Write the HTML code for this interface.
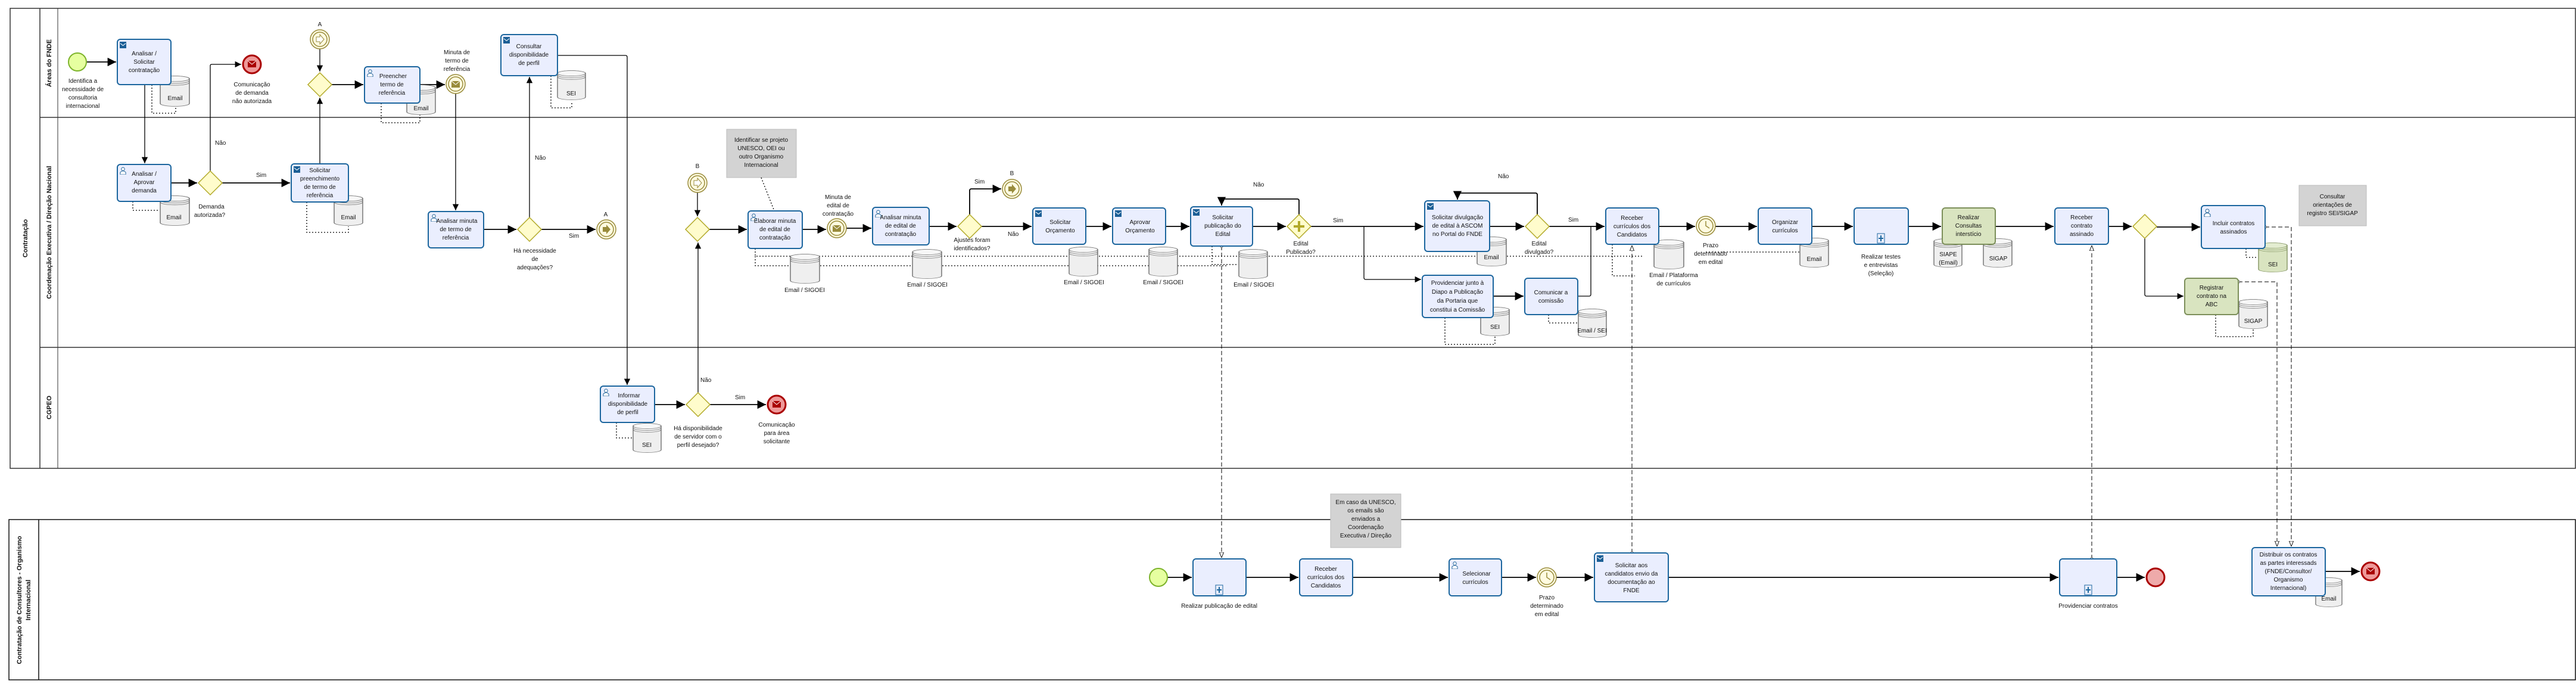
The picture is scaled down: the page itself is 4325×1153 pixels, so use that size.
<!DOCTYPE html>
<html><head><meta charset="utf-8"><style>
html,body{margin:0;padding:0;background:#fff;}
svg{display:block;}
text{font-family:"Liberation Sans Narrow","Liberation Sans",sans-serif;font-size:10px;fill:#111;}
.t{text-anchor:middle;}
.lb{font-family:"Liberation Sans",sans-serif;font-weight:bold;font-size:11px;text-anchor:middle;}
.task{fill:#eaeefe;stroke:#1c669e;stroke-width:2;}
.green{fill:#d9e4c0;stroke:#7c8f5a;stroke-width:2;}
.f{fill:none;stroke:#000;stroke-width:1.3;}
.fb{fill:none;stroke:#000;stroke-width:1.8;}
.msg{fill:none;stroke:#000;stroke-width:1;stroke-dasharray:7,4;}
.dot{fill:none;stroke:#000;stroke-width:1.3;stroke-dasharray:2,3;}
.gw{fill:#fffccc;stroke:#b3aa2a;stroke-width:1.5;}
.ann{fill:#d3d3d3;stroke:#bbb;}
</style></head><body>
<svg width="4325" height="1153" viewBox="0 0 4325 1153" xmlns="http://www.w3.org/2000/svg">
<defs>
<marker id="a" viewBox="0 0 10 10" refX="10" refY="5" markerWidth="8" markerHeight="8" orient="auto-start-reverse"><path d="M0,0L10,5L0,10z" fill="#000"/></marker>
<marker id="o" viewBox="0 0 10 10" refX="10" refY="5" markerWidth="9" markerHeight="9" orient="auto"><path d="M0,1L10,5L0,9z" fill="#fff" stroke="#000"/></marker>
<marker id="c" viewBox="0 0 10 10" refX="5" refY="5" markerWidth="6" markerHeight="6"><circle cx="5" cy="5" r="4" fill="#fff" stroke="#000"/></marker>
<symbol id="db" viewBox="0 0 50 100" preserveAspectRatio="none">
<path d="M1,10 A24,9 0 0 1 49,10 V90 A24,9 0 0 1 1,90 Z" fill="#efefef" stroke="#777" stroke-width="1.5"/>
<ellipse cx="25" cy="10" rx="24" ry="9" fill="#f7f7f7" stroke="#777" stroke-width="1.5"/>
<path d="M1,16 A24,9 0 0 0 49,16 M1,22 A24,9 0 0 0 49,22" fill="none" stroke="#777" stroke-width="1.5"/>
</symbol>
<symbol id="dbg" viewBox="0 0 50 100" preserveAspectRatio="none">
<path d="M1,10 A24,9 0 0 1 49,10 V90 A24,9 0 0 1 1,90 Z" fill="#d9e4c0" stroke="#8a9a6a" stroke-width="1.5"/>
<ellipse cx="25" cy="10" rx="24" ry="9" fill="#e3ecd0" stroke="#8a9a6a" stroke-width="1.5"/>
<path d="M1,16 A24,9 0 0 0 49,16 M1,22 A24,9 0 0 0 49,22" fill="none" stroke="#8a9a6a" stroke-width="1.5"/>
</symbol>
<symbol id="mail" viewBox="0 0 12 12"><rect width="12" height="12" fill="#1c5f96"/><path d="M1,3L6,7L11,3" fill="none" stroke="#fff" stroke-width="1.2"/></symbol>
<symbol id="user" viewBox="0 0 12 14"><circle cx="6" cy="4" r="3" fill="#fff" stroke="#1c5f96"/><path d="M1,14V10Q6,5 11,10V14Z" fill="#fff" stroke="#1c5f96"/></symbol>
</defs>

<!-- Pool 1 -->
<rect x="17" y="14" width="4307" height="772" fill="none" stroke="#333" stroke-width="1.5"/>
<line x1="67" y1="14" x2="67" y2="786" stroke="#333" stroke-width="1.5"/>
<line x1="97" y1="14" x2="97" y2="786" stroke="#333" stroke-width="1"/>
<line x1="67" y1="197" x2="4324" y2="197" stroke="#333" stroke-width="1.5"/>
<line x1="67" y1="583" x2="4324" y2="583" stroke="#333" stroke-width="1.5"/>
<text class="lb" transform="translate(46,400) rotate(-90)">Contratação</text>
<text class="lb" transform="translate(86,106) rotate(-90)">Áreas do FNDE</text>
<text class="lb" transform="translate(86,390) rotate(-90)">Coordenação Executiva / Direção Nacional</text>
<text class="lb" transform="translate(86,684) rotate(-90)">CGPEO</text>

<!-- Pool 2 -->
<rect x="15" y="872" width="4309" height="269" fill="none" stroke="#111" stroke-width="1.5"/>
<line x1="65" y1="872" x2="65" y2="1141" stroke="#111" stroke-width="1.5"/>
<text class="lb" transform="translate(36,1007) rotate(-90)">Contratação de Consultores - Organismo</text>
<text class="lb" transform="translate(51,1007) rotate(-90)">Internacional</text>

<!-- annotations -->
<rect class="ann" x="1220" y="217" width="117" height="81"/>
<text class="t" x="1278" y="238"><tspan x="1278">Identificar se projeto</tspan><tspan x="1278" dy="14">UNESCO, OEI ou</tspan><tspan x="1278" dy="14">outro Organismo</tspan><tspan x="1278" dy="14">Internacional</tspan></text>
<line class="dot" x1="1278" y1="298" x2="1300" y2="354"/>
<rect class="ann" x="3860" y="311" width="113" height="68"/>
<text class="t" x="3916" y="333"><tspan x="3916">Consultar</tspan><tspan x="3916" dy="14">orientações de</tspan><tspan x="3916" dy="14">registro SEI/SIGAP</tspan></text>
<rect class="ann" x="2234" y="829" width="118" height="90"/>
<text class="t" x="2293" y="846"><tspan x="2293">Em caso da UNESCO,</tspan><tspan x="2293" dy="14">os emails são</tspan><tspan x="2293" dy="14">enviados a</tspan><tspan x="2293" dy="14">Coordenação</tspan><tspan x="2293" dy="14">Executiva / Direção</tspan></text>

<!-- dotted data associations -->
<path class="dot" d="M1268,417 V430 H2760"/>
<path class="dot" d="M1268,430 V446 H2060"/>
<path class="dot" d="M255,142 V190 H295 V180"/>
<path class="dot" d="M640,173 V206 H705 V193"/>
<path class="dot" d="M925,127 V181 H960 V170"/>
<path class="dot" d="M223,338 V353 H268"/>
<path class="dot" d="M515,339 V390 H585 V380"/>
<path class="dot" d="M1035,709 V735 H1062"/>
<path class="dot" d="M2426,533 V578 H2510 V565"/>
<path class="dot" d="M2600,528 V542 H2649"/>
<path class="dot" d="M2707,410 V463 H2745"/>
<path class="dot" d="M2864,423 H3021"/>
<path class="dot" d="M3771,417 V432 H3791"/>
<path class="dot" d="M3720,528 V565 H3783 V553"/>
<path class="dot" d="M2035,413 V444 H2079"/>

<!-- message flows -->
<path class="msg" d="M2051,413 V936" marker-start="url(#c)" marker-end="url(#o)"/>
<path class="msg" d="M2740,928 V412" marker-start="url(#c)" marker-end="url(#o)"/>
<path class="msg" d="M3512,938 V412" marker-start="url(#c)" marker-end="url(#o)"/>
<path class="msg" d="M3803,381 H3847 V917" marker-start="url(#c)" marker-end="url(#o)"/>
<path class="msg" d="M3758,473 H3823 V917" marker-start="url(#c)" marker-end="url(#o)"/>

<!-- sequence flows lane 1 & 2 -->
<path class="fb" d="M146,104 H195" marker-end="url(#a)"/>
<path class="f" d="M243,142 V274" marker-end="url(#a)"/>
<path class="fb" d="M287,307 H331" marker-end="url(#a)"/>
<path class="f" d="M353,287 V110 Q353,108 356,108 H405" marker-end="url(#a)"/>
<text x="361" y="243">Não</text>
<path class="fb" d="M373,307 H487" marker-end="url(#a)"/>
<text x="430" y="297">Sim</text>
<path class="f" d="M537,275 V164" marker-end="url(#a)"/>
<path class="f" d="M537,82 V120" marker-end="url(#a)"/>
<path class="fb" d="M557,142 H610" marker-end="url(#a)"/>
<path class="fb" d="M705,142 H747" marker-end="url(#a)"/>
<path class="f" d="M765,157 V353" marker-end="url(#a)"/>
<path class="fb" d="M812,385 H867" marker-end="url(#a)"/>
<path class="f" d="M889,365 V129" marker-end="url(#a)"/>
<text x="898" y="268">Não</text>
<path class="fb" d="M909,385 H1000" marker-end="url(#a)"/>
<text x="955" y="399">Sim</text>
<path class="f" d="M936,93 H1050 Q1053,93 1053,96 V646" marker-end="url(#a)"/>
<path class="fb" d="M1099,679 H1150" marker-end="url(#a)"/>
<path class="fb" d="M1192,679 H1286" marker-end="url(#a)"/>
<text x="1234" y="670">Sim</text>
<path class="f" d="M1172,659 V407" marker-end="url(#a)"/>
<text x="1176" y="641">Não</text>
<path class="f" d="M1171,323 V363" marker-end="url(#a)"/>
<path class="fb" d="M1191,385 H1254" marker-end="url(#a)"/>
<path class="fb" d="M1347,385 H1387" marker-end="url(#a)"/>
<path class="fb" d="M1421,383 H1463" marker-end="url(#a)"/>
<path class="fb" d="M1560,380 H1606" marker-end="url(#a)"/>
<path class="fb" d="M1628,360 V320 Q1628,317 1631,317 H1681" marker-end="url(#a)"/>
<text x="1636" y="308">Sim</text>
<path class="fb" d="M1648,380 H1732" marker-end="url(#a)"/>
<text x="1692" y="396">Não</text>
<path class="fb" d="M1823,380 H1866" marker-end="url(#a)"/>
<path class="fb" d="M1957,380 H1997" marker-end="url(#a)"/>
<path class="fb" d="M2103,380 H2159" marker-end="url(#a)"/>
<path class="fb" d="M2181,360 V337 Q2181,334 2178,334 H2054 Q2051,334 2051,337 V345" marker-end="url(#a)"/>
<text x="2104" y="313">Não</text>
<path class="fb" d="M2201,380 H2390" marker-end="url(#a)"/>
<text x="2238" y="373">Sim</text>
<path class="f" d="M2290,380 V466 Q2290,469 2293,469 H2386" marker-end="url(#a)"/>
<path class="fb" d="M2501,380 H2559" marker-end="url(#a)"/>
<path class="fb" d="M2581,360 V327 Q2581,324 2578,324 H2450 Q2447,324 2447,327 V335" marker-end="url(#a)"/>
<text x="2515" y="299">Não</text>
<path class="fb" d="M2601,380 H2694" marker-end="url(#a)"/>
<text x="2633" y="372">Sim</text>
<path class="fb" d="M2507,497 H2558" marker-end="url(#a)"/>
<path class="f" d="M2649,497 H2668 Q2671,497 2671,494 V380"/>
<path class="fb" d="M2785,380 H2846" marker-end="url(#a)"/>
<path class="fb" d="M2880,380 H2950" marker-end="url(#a)"/>
<path class="fb" d="M3042,380 H3111" marker-end="url(#a)"/>
<path class="fb" d="M3204,380 H3259" marker-end="url(#a)"/>
<path class="fb" d="M3350,380 H3448" marker-end="url(#a)"/>
<path class="fb" d="M3540,380 H3579" marker-end="url(#a)"/>
<path class="fb" d="M3621,381 H3694" marker-end="url(#a)"/>
<path class="f" d="M3601,400 V494 Q3601,497 3604,497 H3666" marker-end="url(#a)"/>

<!-- pool 2 flows -->
<path class="fb" d="M1960,969 H2001" marker-end="url(#a)"/>
<path class="fb" d="M2092,969 H2180" marker-end="url(#a)"/>
<path class="fb" d="M2271,969 H2431" marker-end="url(#a)"/>
<path class="fb" d="M2521,969 H2579" marker-end="url(#a)"/>
<path class="fb" d="M2613,969 H2675" marker-end="url(#a)"/>
<path class="fb" d="M2801,969 H3456" marker-end="url(#a)"/>
<path class="fb" d="M3554,969 H3601" marker-end="url(#a)"/>
<path class="fb" d="M3904,959 H3962" marker-end="url(#a)"/>

<!-- data stores -->
<use href="#db" x="268" y="127" width="51" height="52"/><text class="t" x="294" y="168">Email</text>
<use href="#db" x="682" y="142" width="50" height="51"/><text class="t" x="707" y="185">Email</text>
<use href="#db" x="935" y="118" width="49" height="50"/><text class="t" x="959" y="160">SEI</text>
<use href="#db" x="268" y="328" width="51" height="51"/><text class="t" x="292" y="368">Email</text>
<use href="#db" x="560" y="328" width="50" height="51"/><text class="t" x="585" y="368">Email</text>
<use href="#db" x="1062" y="710" width="49" height="50"/><text class="t" x="1086" y="750">SEI</text>
<use href="#db" x="1326" y="426" width="51" height="50"/><text class="t" x="1351" y="490">Email / SIGOEI</text>
<use href="#db" x="1531" y="418" width="51" height="50"/><text class="t" x="1557" y="481">Email / SIGOEI</text>
<use href="#db" x="1794" y="414" width="50" height="50"/><text class="t" x="1820" y="477">Email / SIGOEI</text>
<use href="#db" x="1928" y="414" width="50" height="50"/><text class="t" x="1953" y="477">Email / SIGOEI</text>
<use href="#db" x="2079" y="418" width="50" height="50"/><text class="t" x="2105" y="481">Email / SIGOEI</text>
<use href="#db" x="2479" y="397" width="51" height="50"/><text class="t" x="2504" y="435">Email</text>
<use href="#db" x="2485" y="515" width="50" height="49"/><text class="t" x="2510" y="552">SEI</text>
<use href="#db" x="2649" y="518" width="49" height="49"/><text class="t" x="2673" y="558">Email / SEI</text>
<use href="#db" x="2776" y="402" width="52" height="50"/><text class="t" x="2800" y="465"><tspan x="2810">Email / Plataforma</tspan><tspan x="2810" dy="14">de currículos</tspan></text>
<use href="#db" x="3021" y="399" width="50" height="50"/><text class="t" x="3046" y="438">Email</text>
<use href="#db" x="3246" y="400" width="49" height="49"/><text class="t" x="3271" y="430"><tspan x="3271">SIAPE</tspan><tspan x="3271" dy="14">(Email)</tspan></text>
<use href="#db" x="3329" y="400" width="50" height="49"/><text class="t" x="3355" y="437">SIGAP</text>
<use href="#dbg" x="3791" y="407" width="50" height="50"/><text class="t" x="3816" y="447">SEI</text>
<use href="#db" x="3758" y="502" width="50" height="50"/><text class="t" x="3783" y="542">SIGAP</text>
<use href="#db" x="3887" y="969" width="46" height="50"/><text class="t" x="3910" y="1008">Email</text>

<!-- tasks lane 1 -->
<rect class="task" x="197" y="66" width="90" height="76" rx="5"/><use href="#mail" x="201" y="70" width="11" height="11"/>
<text class="t" x="242" y="93"><tspan x="242">Analisar /</tspan><tspan x="242" dy="14">Solicitar</tspan><tspan x="242" dy="14">contratação</tspan></text>
<rect class="task" x="612" y="112" width="93" height="61" rx="5"/><use href="#user" x="616" y="116" width="11" height="13"/>
<text class="t" x="658" y="131"><tspan x="660">Preencher</tspan><tspan x="658" dy="14">termo de</tspan><tspan x="658" dy="14">referência</tspan></text>
<rect class="task" x="841" y="58" width="95" height="69" rx="5"/><use href="#mail" x="845" y="62" width="11" height="11"/>
<text class="t" x="888" y="81"><tspan x="888">Consultar</tspan><tspan x="888" dy="14">disponibilidade</tspan><tspan x="888" dy="14">de perfil</tspan></text>

<!-- tasks lane 2 -->
<rect class="task" x="197" y="276" width="90" height="62" rx="5"/><use href="#user" x="201" y="280" width="11" height="13"/>
<text class="t" x="242" y="295"><tspan x="242">Analisar /</tspan><tspan x="242" dy="14">Aprovar</tspan><tspan x="242" dy="14">demanda</tspan></text>
<rect class="task" x="489" y="275" width="96" height="64" rx="5"/><use href="#mail" x="493" y="279" width="11" height="11"/>
<text class="t" x="537" y="289"><tspan x="537">Solicitar</tspan><tspan x="537" dy="14">preenchimento</tspan><tspan x="537" dy="14">de termo de</tspan><tspan x="537" dy="14">referência</tspan></text>
<rect class="task" x="719" y="355" width="93" height="61" rx="5"/><use href="#user" x="723" y="359" width="11" height="13"/>
<text class="t" x="765" y="374"><tspan x="767">Analisar minuta</tspan><tspan x="765" dy="14">de termo de</tspan><tspan x="765" dy="14">referência</tspan></text>
<rect class="task" x="1256" y="354" width="91" height="63" rx="5"/><use href="#user" x="1260" y="358" width="11" height="13"/>
<text class="t" x="1301" y="374"><tspan x="1301">Elaborar minuta</tspan><tspan x="1301" dy="14">de edital de</tspan><tspan x="1301" dy="14">contratação</tspan></text>
<rect class="task" x="1465" y="348" width="95" height="63" rx="5"/><use href="#user" x="1469" y="352" width="11" height="13"/>
<text class="t" x="1512" y="368"><tspan x="1512">Analisar minuta</tspan><tspan x="1512" dy="14">de edital de</tspan><tspan x="1512" dy="14">contratação</tspan></text>
<rect class="task" x="1734" y="349" width="89" height="61" rx="5"/><use href="#mail" x="1738" y="353" width="11" height="11"/>
<text class="t" x="1780" y="376"><tspan x="1780">Solicitar</tspan><tspan x="1780" dy="14">Orçamento</tspan></text>
<rect class="task" x="1868" y="349" width="89" height="61" rx="5"/><use href="#mail" x="1872" y="353" width="11" height="11"/>
<text class="t" x="1914" y="376"><tspan x="1914">Aprovar</tspan><tspan x="1914" dy="14">Orçamento</tspan></text>
<rect class="task" x="1999" y="347" width="104" height="66" rx="5"/><use href="#mail" x="2003" y="351" width="11" height="11"/>
<text class="t" x="2053" y="368"><tspan x="2053">Solicitar</tspan><tspan x="2053" dy="14">publicação do</tspan><tspan x="2053" dy="14">Edital</tspan></text>
<rect class="task" x="2392" y="337" width="109" height="85" rx="5"/><use href="#mail" x="2396" y="341" width="11" height="11"/>
<text class="t" x="2447" y="368"><tspan x="2447">Solicitar divulgação</tspan><tspan x="2447" dy="14">de edital à ASCOM</tspan><tspan x="2447" dy="14">no Portal do FNDE</tspan></text>
<rect class="task" x="2388" y="462" width="119" height="71" rx="5"/>
<text class="t" x="2447" y="478"><tspan x="2447">Providenciar junto à</tspan><tspan x="2447" dy="15">Diapo a Publicação</tspan><tspan x="2447" dy="15">da Portaria que</tspan><tspan x="2447" dy="15">constitui a Comissão</tspan></text>
<rect class="task" x="2560" y="467" width="89" height="61" rx="5"/>
<text class="t" x="2604" y="494"><tspan x="2604">Comunicar a</tspan><tspan x="2604" dy="14">comissão</tspan></text>
<rect class="task" x="2696" y="349" width="89" height="61" rx="5"/>
<text class="t" x="2740" y="369"><tspan x="2740">Receber</tspan><tspan x="2740" dy="14">currículos dos</tspan><tspan x="2740" dy="14">Candidatos</tspan></text>
<rect class="task" x="2952" y="349" width="90" height="61" rx="5"/>
<text class="t" x="2997" y="376"><tspan x="2997">Organizar</tspan><tspan x="2997" dy="14">currículos</tspan></text>
<rect class="task" x="3113" y="349" width="91" height="61" rx="5" stroke-width="3.5"/>
<rect x="3152" y="392" width="12" height="16" fill="#eaeefe" stroke="#1c669e"/><path d="M3158,395V405M3154,400H3162" stroke="#1c669e" stroke-width="2"/>
<text class="t" x="3158" y="434"><tspan x="3158">Realizar testes</tspan><tspan x="3158" dy="14">e entrevistas</tspan><tspan x="3158" dy="14">(Seleção)</tspan></text>
<rect class="green" x="3261" y="349" width="89" height="61" rx="5"/>
<text class="t" x="3305" y="368"><tspan x="3305">Realizar</tspan><tspan x="3305" dy="14">Consultas</tspan><tspan x="3305" dy="14">interstício</tspan></text>
<rect class="task" x="3450" y="349" width="90" height="61" rx="5"/>
<text class="t" x="3495" y="368"><tspan x="3495">Receber</tspan><tspan x="3495" dy="14">contrato</tspan><tspan x="3495" dy="14">assinado</tspan></text>
<rect class="task" x="3696" y="345" width="107" height="72" rx="5"/><use href="#user" x="3700" y="350" width="12" height="14"/>
<text class="t" x="3750" y="378"><tspan x="3750">Incluir contratos</tspan><tspan x="3750" dy="14">assinados</tspan></text>
<rect class="green" x="3668" y="467" width="90" height="61" rx="5"/>
<text class="t" x="3713" y="486"><tspan x="3713">Registrar</tspan><tspan x="3713" dy="14">contrato na</tspan><tspan x="3713" dy="14">ABC</tspan></text>

<!-- lane 3 -->
<rect class="task" x="1008" y="648" width="91" height="61" rx="5"/><use href="#user" x="1012" y="652" width="11" height="13"/>
<text class="t" x="1054" y="667"><tspan x="1056">Informar</tspan><tspan x="1054" dy="14">disponibilidade</tspan><tspan x="1054" dy="14">de perfil</tspan></text>

<!-- pool 2 tasks -->
<rect class="task" x="2003" y="938" width="89" height="62" rx="5"/>
<rect x="2041" y="982" width="12" height="16" fill="#eaeefe" stroke="#1c669e"/><path d="M2047,985V995M2043,990H2051" stroke="#1c669e" stroke-width="2"/>
<text class="t" x="2047" y="1020">Realizar publicação de edital</text>
<rect class="task" x="2182" y="938" width="89" height="62" rx="5"/>
<text class="t" x="2226" y="958"><tspan x="2226">Receber</tspan><tspan x="2226" dy="14">currículos dos</tspan><tspan x="2226" dy="14">Candidatos</tspan></text>
<rect class="task" x="2433" y="938" width="88" height="62" rx="5"/><use href="#user" x="2437" y="942" width="11" height="13"/>
<text class="t" x="2477" y="966"><tspan x="2479">Selecionar</tspan><tspan x="2477" dy="14">currículos</tspan></text>
<rect class="task" x="2677" y="928" width="124" height="82" rx="5"/><use href="#mail" x="2681" y="932" width="11" height="11"/>
<text class="t" x="2739" y="952"><tspan x="2739">Solicitar aos</tspan><tspan x="2739" dy="14">candidatos envio da</tspan><tspan x="2739" dy="14">documentação ao</tspan><tspan x="2739" dy="14">FNDE</tspan></text>
<rect class="task" x="3458" y="938" width="96" height="62" rx="5"/>
<rect x="3500" y="982" width="12" height="16" fill="#eaeefe" stroke="#1c669e"/><path d="M3506,985V995M3502,990H3510" stroke="#1c669e" stroke-width="2"/>
<text class="t" x="3506" y="1020">Providenciar contratos</text>
<rect class="task" x="3781" y="919" width="123" height="81" rx="5"/>
<text class="t" x="3842" y="934"><tspan x="3842">Distribuir os contratos</tspan><tspan x="3842" dy="14">as partes interessads</tspan><tspan x="3842" dy="14">(FNDE/Consultor/</tspan><tspan x="3842" dy="14">Organismo</tspan><tspan x="3842" dy="14">Internacional)</tspan></text>

<!-- gateways -->
<path class="gw" d="M353,287L373,307L353,327L333,307Z"/>
<text class="t" x="355" y="350"><tspan x="355">Demanda</tspan><tspan x="352" dy="14">autorizada?</tspan></text>
<path class="gw" d="M537,122L557,142L537,162L517,142Z"/>
<path class="gw" d="M889,365L909,385L889,405L869,385Z"/>
<text class="t" x="898" y="424"><tspan x="898">Há necessidade</tspan><tspan x="898" dy="14">de</tspan><tspan x="898" dy="14">adequações?</tspan></text>
<path class="gw" d="M1172,659L1192,679L1172,699L1152,679Z"/>
<text class="t" x="1172" y="722"><tspan x="1172">Há disponibilidade</tspan><tspan x="1172" dy="14">de servidor com o</tspan><tspan x="1172" dy="14">perfil desejado?</tspan></text>
<path class="gw" d="M1171,365L1191,385L1171,405L1151,385Z"/>
<path class="gw" d="M1628,360L1648,380L1628,400L1608,380Z"/>
<text class="t" x="1632" y="406"><tspan x="1632">Ajustes foram</tspan><tspan x="1632" dy="14">identificados?</tspan></text>
<path class="gw" d="M2181,360L2201,380L2181,400L2161,380Z"/>
<path d="M2181,371V389M2172,380H2190" stroke="#b3aa2a" stroke-width="4"/>
<text class="t" x="2184" y="412"><tspan x="2184">Edital</tspan><tspan x="2184" dy="14">Publicado?</tspan></text>
<path class="gw" d="M2581,360L2601,380L2581,400L2561,380Z"/>
<text class="t" x="2584" y="412"><tspan x="2584">Edital</tspan><tspan x="2584" dy="14">divulgado?</tspan></text>
<path class="gw" d="M3601,360L3621,380L3601,400L3581,380Z"/>

<!-- events -->
<circle cx="130" cy="104" r="15" fill="#e6ffa0" stroke="#7cb32a" stroke-width="2"/>
<text class="t" x="139" y="139"><tspan x="139">Identifica a</tspan><tspan x="139" dy="14">necessidade de</tspan><tspan x="139" dy="14">consultoria</tspan><tspan x="139" dy="14">internacional</tspan></text>
<circle cx="423" cy="108" r="15" fill="#e99" stroke="#a00" stroke-width="3"/>
<rect x="416" y="102" width="14" height="11" fill="#a00"/><path d="M416,102L423,108L430,102" stroke="#fff" fill="none"/>
<text class="t" x="423" y="145"><tspan x="423">Comunicação</tspan><tspan x="423" dy="14">de demanda</tspan><tspan x="423" dy="14">não autorizada</tspan></text>
<circle cx="1304" cy="679" r="15" fill="#e99" stroke="#a00" stroke-width="3"/>
<rect x="1297" y="673" width="14" height="11" fill="#a00"/><path d="M1297,673L1304,679L1311,673" stroke="#fff" fill="none"/>
<text class="t" x="1304" y="716"><tspan x="1304">Comunicação</tspan><tspan x="1304" dy="14">para área</tspan><tspan x="1304" dy="14">solicitante</tspan></text>
<circle cx="3980" cy="959" r="15" fill="#e99" stroke="#a00" stroke-width="3"/>
<rect x="3973" y="953" width="14" height="11" fill="#a00"/><path d="M3973,953L3980,959L3987,953" stroke="#fff" fill="none"/>
<circle cx="3619" cy="969" r="15" fill="#eaa" stroke="#a00" stroke-width="3"/>
<circle cx="1945" cy="969" r="15" fill="#e6ffa0" stroke="#7cb32a" stroke-width="2"/>

<!-- link events -->
<g fill="#fffbe0" stroke="#998c3c" stroke-width="1.5">
<circle cx="537" cy="66" r="16"/><circle cx="537" cy="66" r="12"/>
<circle cx="1018" cy="385" r="16"/><circle cx="1018" cy="385" r="12"/>
<circle cx="1171" cy="307" r="16"/><circle cx="1171" cy="307" r="12"/>
<circle cx="1699" cy="317" r="16"/><circle cx="1699" cy="317" r="12"/>
<circle cx="765" cy="141" r="16"/><circle cx="765" cy="141" r="12"/>
<circle cx="1405" cy="383" r="16"/><circle cx="1405" cy="383" r="12"/>
<circle cx="2864" cy="379" r="16"/><circle cx="2864" cy="379" r="12"/>
<circle cx="2597" cy="969" r="16"/><circle cx="2597" cy="969" r="12"/>
</g>
<path d="M531,62H537V58L544,66L537,74V70H531Z" fill="#fff" stroke="#998c3c"/>
<path d="M1165,303H1171V299L1178,307L1171,315V311H1165Z" fill="#fff" stroke="#998c3c"/>
<path d="M1012,381H1018V377L1025,385L1018,393V389H1012Z" fill="#998c3c"/>
<path d="M1693,313H1699V309L1706,317L1699,325V321H1693Z" fill="#998c3c"/>
<rect x="758" y="136" width="14" height="11" fill="#998c3c"/><path d="M758,136L765,142L772,136" stroke="#fff" fill="none"/>
<rect x="1398" y="378" width="14" height="11" fill="#998c3c"/><path d="M1398,378L1405,384L1412,378" stroke="#fff" fill="none"/>
<path d="M2864,371V379L2870,383M2597,961V969L2603,973" stroke="#998c3c" fill="none" stroke-width="1.5"/>
<text class="t" x="537" y="44">A</text>
<text class="t" x="1017" y="363">A</text>
<text class="t" x="1171" y="282">B</text>
<text class="t" x="1699" y="294">B</text>
<text class="t" x="767" y="91"><tspan x="767">Minuta de</tspan><tspan x="767" dy="14">termo de</tspan><tspan x="767" dy="14">referência</tspan></text>
<text class="t" x="1407" y="334"><tspan x="1407">Minuta de</tspan><tspan x="1407" dy="14">edital de</tspan><tspan x="1407" dy="14">contratação</tspan></text>
<text class="t" x="2872" y="415"><tspan x="2872">Prazo</tspan><tspan x="2872" dy="14">determinado</tspan><tspan x="2872" dy="14">em edital</tspan></text>
<text class="t" x="2597" y="1006"><tspan x="2597">Prazo</tspan><tspan x="2597" dy="14">determinado</tspan><tspan x="2597" dy="14">em edital</tspan></text>
</svg>
</body></html>
